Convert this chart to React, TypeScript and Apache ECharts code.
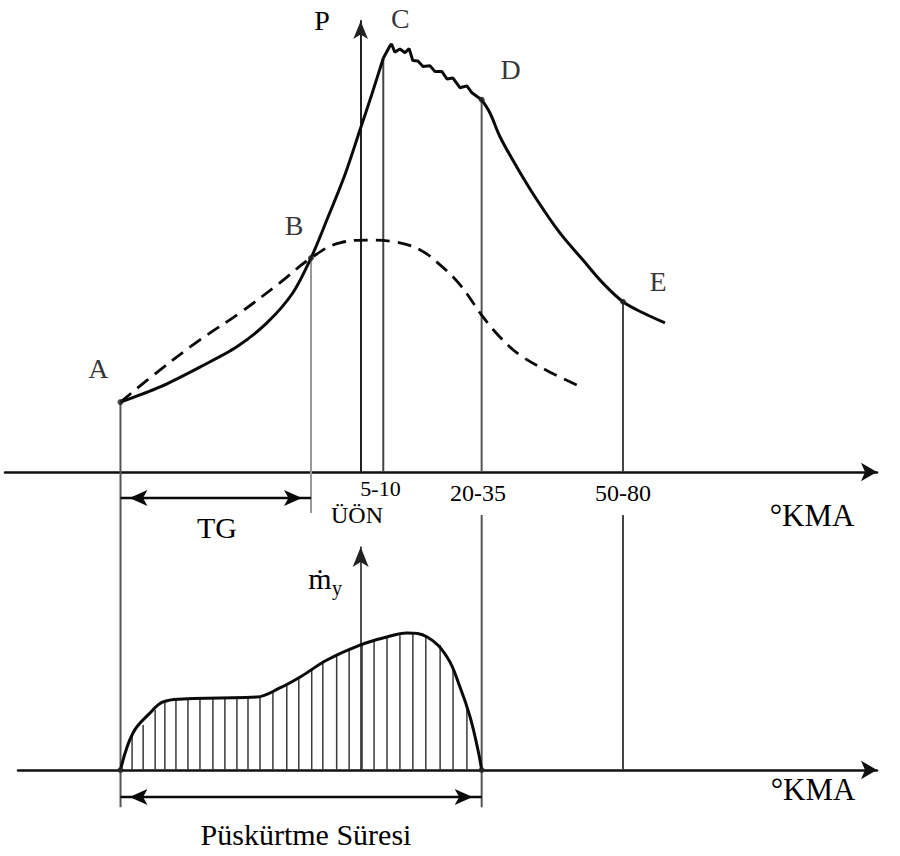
import React, { useEffect, useRef } from "react";
import * as echarts from "echarts";

const FONT = "Liberation Serif, Times New Roman, serif";

// ---- top diagram: cylinder pressure P vs crank angle (schematic units) ----
const riseX = [-52, -43.4, -34.8, -26.8, -20.3, -14.7, -10.75, -7.3, -3.4, -0.15, 2.4, 4.9];
const riseP = [15.2, 18.5, 22.8, 27.2, 32.4, 38.9, 46.5, 54.8, 64.6, 74.3, 82, 89.9];

const plateauX = [4.9, 6.3, 6.7, 7.4, 8.5, 9.6, 10.5, 11.3, 12.4, 13.5, 15.0, 16.1, 17.6, 18.7, 20.0, 21.5, 23.0, 24.1, 25.2, 26.2];
const plateauP = [89.9, 92.5, 93.0, 91.2, 91.9, 91.1, 92.0, 89.4, 89.3, 88.1, 88.3, 87.0, 87.0, 85.4, 85.6, 83.5, 83.9, 82.4, 81.6, 80.9];

const fallX = [26.2, 28, 30.2, 33.8, 38.2, 43.1, 48.1, 52.4, 56.8, 61.1, 65.9];
const fallP = [80.9, 78, 72.8, 66.3, 59.1, 52, 46.1, 41.1, 37, 34.6, 32.4];

const motoringX = [-52, -43.4, -34.8, -26.1, -17.5, -10.75, -4.5, 2, 7.4, 12.8, 17.2, 21.5, 26.5, 30.2, 34.5, 41, 48.1];
const motoringP = [15.2, 22.2, 28.7, 34.6, 41.1, 46.5, 49.8, 50.4, 50, 48.3, 45, 40.7, 33.7, 29.3, 25.4, 21.7, 18.3];

const pointNames = ["A", "B", "C", "D", "E"];
const pointX = [-52, -10.75, 4.9, 26.2, 56.8];
const pointP = [15.2, 46.5, 89.9, 80.9, 37];

const tickValues = [4.3, 25.4, 56.8];
const tickLabels = ["5-10", "20-35", "50-80"];

// ---- bottom diagram: injection rate ṁy ----
const injX = [-52, -49.3, -45.6, -42.8, -38.5, -30.5, -22.5, -17.5, -13.1, -7.3, -0.15, 5.7, 10, 14.4, 18.7, 21.5, 23.7, 25.4, 26.2];
const injY = [0, 15.9, 24.5, 29.2, 30.5, 30.9, 31.3, 35.2, 39.9, 47.2, 53.6, 57.1, 58.8, 57.1, 48.5, 35.6, 22.7, 8.6, 0];

const hatchX = [-49.5, -47.1, -44.5, -42.4, -40, -37.4, -34.8, -32, -29.4, -26.8, -24.4, -21.8, -19, -16, -13.4, -10.6, -8.2, -5.2, -2.5, 0.3, 2.9, 5.7, 8.5, 11.3, 14.1, 17.2, 20, 23];
const hatchY = [14.2, 19.3, 25.8, 29.2, 30, 30.5, 30.9, 30.9, 30.9, 30.9, 30.9, 31.3, 33, 36, 39.5, 43.3, 46.4, 49.4, 51.9, 53.6, 55.4, 57.1, 58.4, 58.8, 57.5, 53.6, 44.2, 26.6];

// spans marked with double arrows
const tgSpan = [-52, -10.75];    // ignition delay (TG)
const tgLevel = -5.65;
const injSpan = [-52, 26.2];     // injection duration
const injLevel = -11.6;

const zip = (xs: number[], ys: number[]) => xs.map((x, i) => [x, ys[i]]);

export default function App() {
  const ref = useRef<HTMLDivElement>(null);
  useEffect(() => {
    const chart = echarts.init(ref.current!, null, { renderer: "svg" });
    const curve = { color: "#0a0a0a", width: 3 };
    const series: any[] = [];

    // vertical drop lines (top grid)
    const dropColors = ["#555", "#999", "#444", "#555", "#444"];
    pointX.forEach((x, i) => {
      series.push({
        type: "line", xAxisIndex: 0, yAxisIndex: 0, clip: false, silent: true, showSymbol: false,
        data: [[x, pointP[i]], [x, i === 1 ? -8.9 : 0]],
        lineStyle: { color: dropColors[i], width: 2 }, z: 2,
      });
    });
    // drop lines continued in bottom grid
    const lower: [number, number, number, string][] = [
      [pointX[0], -16, 128, "#555"], [pointX[3], -16, 109.4, "#555"], [pointX[4], 0, 109.4, "#444"],
    ];
    lower.forEach(([x, y0, y1, c]) => {
      series.push({
        type: "line", xAxisIndex: 1, yAxisIndex: 1, clip: false, silent: true, showSymbol: false,
        data: [[x, y0], [x, y1]], lineStyle: { color: c, width: 2 }, z: 2,
      });
    });

    // double arrows
    const arrow = (axis: number, span: number[], level: number) => ({
      type: "line", xAxisIndex: axis, yAxisIndex: axis, clip: false, silent: true,
      showSymbol: true, symbol: "arrow", symbolSize: [12, 18],
      itemStyle: { color: "#0a0a0a" },
      data: [
        { value: [span[0], level], symbolRotate: 90, symbolOffset: [9, 0] },
        { value: [span[1], level], symbolRotate: -90, symbolOffset: [-9, 0] },
      ],
      lineStyle: { color: "#0a0a0a", width: 2.6 }, z: 4,
    });
    series.push(arrow(0, tgSpan, tgLevel), arrow(1, injSpan, injLevel));

    series.push(
      { type: "line", xAxisIndex: 0, yAxisIndex: 0, data: zip(motoringX, motoringP), smooth: 0.4, showSymbol: false, clip: false, lineStyle: { color: "#0a0a0a", width: 2.8, type: [14, 8] }, z: 4 },
      { type: "line", xAxisIndex: 0, yAxisIndex: 0, data: zip(riseX, riseP), smooth: 0.3, showSymbol: false, clip: false, lineStyle: curve, z: 5 },
      { type: "line", xAxisIndex: 0, yAxisIndex: 0, data: zip(plateauX, plateauP), smooth: false, showSymbol: false, clip: false, lineStyle: curve, z: 5 },
      { type: "line", xAxisIndex: 0, yAxisIndex: 0, data: zip(fallX, fallP), smooth: 0.35, showSymbol: false, clip: false, lineStyle: curve, z: 5 },
      {
        type: "scatter", xAxisIndex: 0, yAxisIndex: 0, clip: false, symbolSize: 6,
        itemStyle: { color: "#222" },
        data: pointX.map((x, i) => ({
          value: [x, pointP[i]],
          symbolSize: i === 2 ? 0 : 6,
          label: { offset: [[-22, -34], [-17, -33], [17, -40], [29, -30], [35, -20]][i] },
        })),
        label: {
          show: true, position: "inside", formatter: (p: any) => pointNames[p.dataIndex],
          fontFamily: FONT, fontSize: 28, color: "#000", textBorderWidth: 0,
        },
        z: 6,
      },
      { type: "bar", xAxisIndex: 1, yAxisIndex: 1, data: zip(hatchX, hatchY), barWidth: 1.5, itemStyle: { color: "#3a3a3a" }, silent: true, z: 3 },
      { type: "line", xAxisIndex: 1, yAxisIndex: 1, data: zip(injX, injY), smooth: 0.4, showSymbol: false, clip: false, lineStyle: { color: "#0a0a0a", width: 3 }, z: 5 },
      {
        type: "scatter", xAxisIndex: 1, yAxisIndex: 1, clip: false, symbolSize: 6, itemStyle: { color: "#222" },
        data: [[injX[0], 0], [injX[injX.length - 1], 0]], z: 6,
      },
    );

    const txt = (text: string, x: number, y: number, size: number) => ({
      type: "text", x, y, silent: true, z: 10,
      style: { text, fontFamily: FONT, fontSize: size, fill: "#000", align: "center", verticalAlign: "middle" },
    });

    chart.setOption({
      animation: false,
      backgroundColor: "#fff",
      grid: [
        { left: 5, right: 23, top: 21, bottom: 384 },
        { left: 18, right: 23, top: 547, bottom: 86 },
      ],
      xAxis: [
        {
          gridIndex: 0, type: "value", min: -77, max: 111.8,
          axisLine: { show: true, lineStyle: { color: "#111", width: 2.5 }, symbol: ["none", "arrow"], symbolSize: [14, 16] },
          axisTick: { show: false }, splitLine: { show: false },
          axisLabel: {
            customValues: tickValues, margin: 5,
            formatter: (v: number) => {
              const i = tickValues.indexOf(v);
              return i === 0 ? `{s|${tickLabels[i]}}` : `{n|${tickLabels[i]}}`;
            },
            rich: {
              s: { fontFamily: FONT, fontSize: 22, color: "#000" },
              n: { fontFamily: FONT, fontSize: 24, color: "#000", padding: [4, 0, 0, 0] },
            },
          },
        },
        {
          gridIndex: 1, type: "value", min: -74.2, max: 111.8,
          axisLine: { show: true, lineStyle: { color: "#111", width: 2.5 }, symbol: ["none", "arrow"], symbolSize: [14, 16] },
          axisTick: { show: false }, splitLine: { show: false }, axisLabel: { show: false },
        },
      ],
      yAxis: [
        {
          gridIndex: 0, type: "value", min: 0, max: 98,
          axisLine: { show: true, onZero: true, lineStyle: { color: "#222", width: 2 }, symbol: ["none", "arrow"], symbolSize: [11, 18] },
          axisTick: { show: false }, splitLine: { show: false }, axisLabel: { show: false },
        },
        {
          gridIndex: 1, type: "value", min: 0, max: 95.7,
          axisLine: { show: true, onZero: true, lineStyle: { color: "#222", width: 1.6 }, symbol: ["none", "arrow"], symbolSize: [12, 20] },
          axisTick: { show: false }, splitLine: { show: false }, axisLabel: { show: false },
        },
      ],
      graphic: [
        txt("P", 322, 20, 28),
        txt("ÜÖN", 357, 515, 24),
        txt("TG", 217, 527, 30),
        txt("°KMA", 812, 515, 31),
        txt("ṁ", 320, 578, 30),
        txt("y", 337, 588, 20),
        txt("°KMA", 813, 789, 31),
        txt("Püskürtme Süresi", 306, 834, 30),
      ],
      series,
    });
    return () => chart.dispose();
  }, []);
  return <div ref={ref} style={{ position: "absolute", left: 0, top: 0, width: 900, height: 856, background: "#fff" }} />;
}
